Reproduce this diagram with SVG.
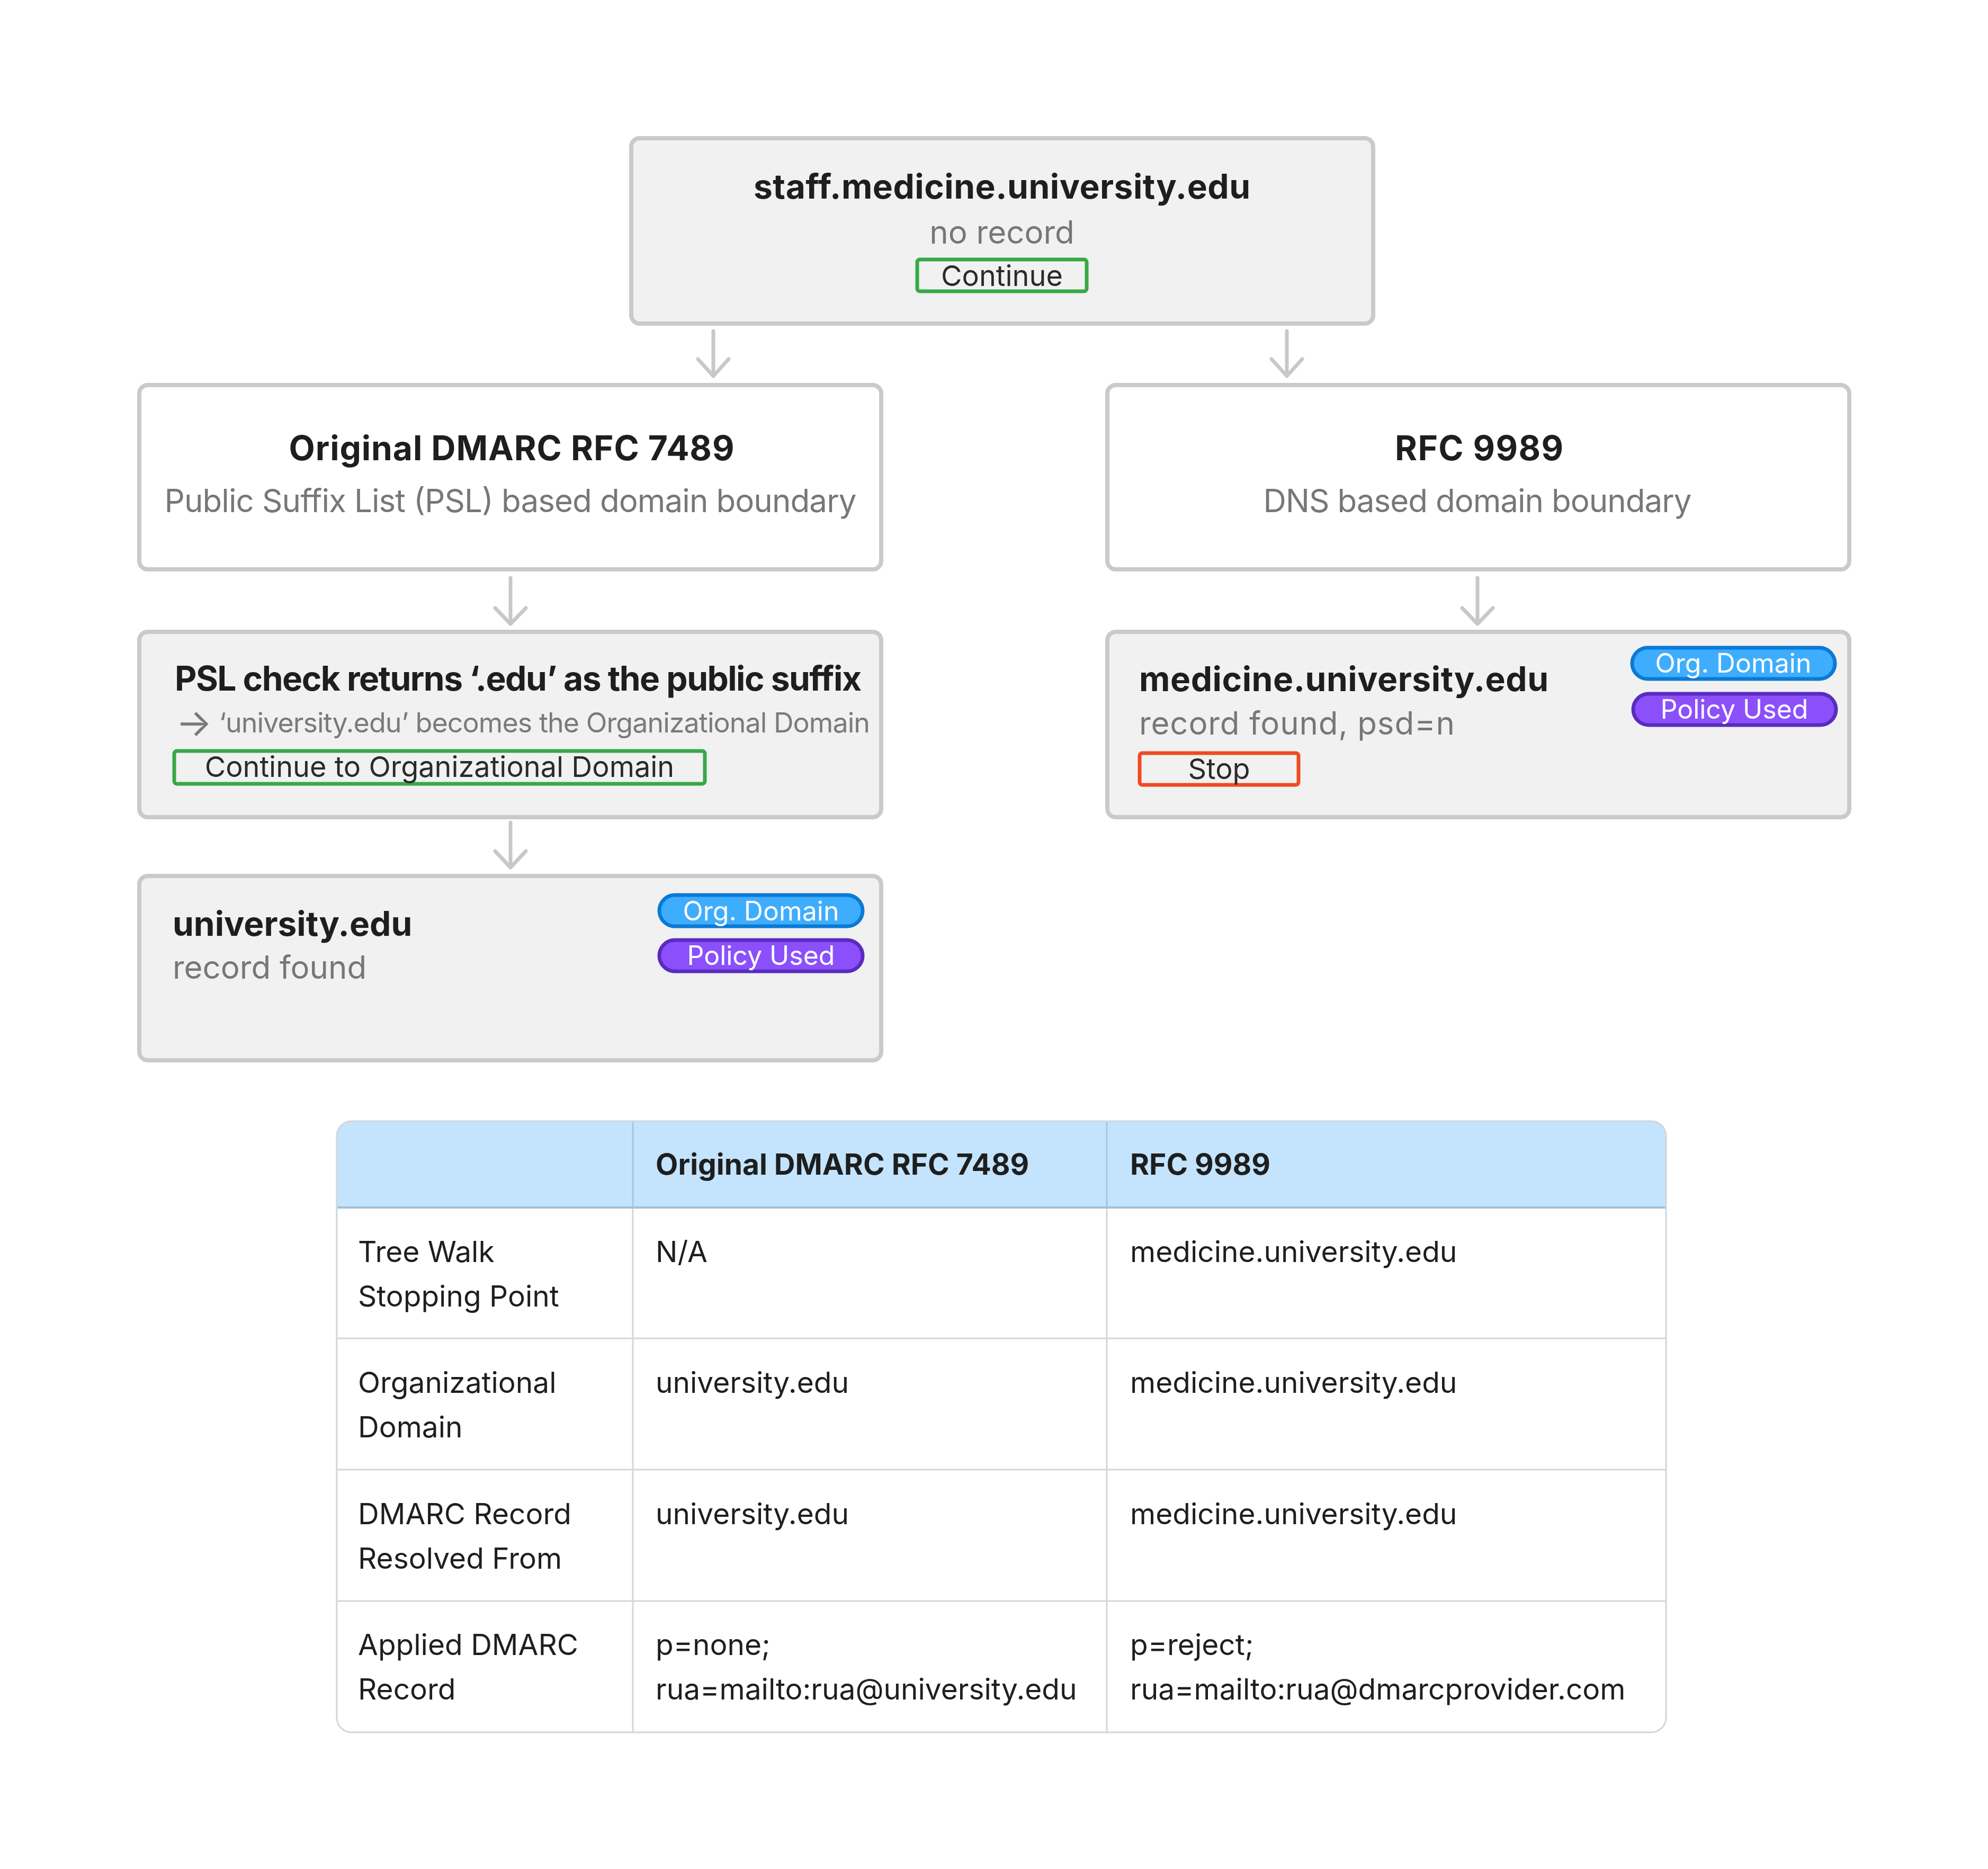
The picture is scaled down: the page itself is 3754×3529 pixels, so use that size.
<svg xmlns="http://www.w3.org/2000/svg" width="3754" height="3529" viewBox="0 0 3754 3529">
<style>
.box{stroke:#cacaca;stroke-width:8}
.g{fill:#f1f1f1}
.w{fill:#ffffff}
.t{font-family:Inter,"Liberation Sans",sans-serif;font-weight:700;font-size:64px;fill:#1e1e1e}
.s{font-family:Inter,"Liberation Sans",sans-serif;font-weight:400;font-size:60px;fill:#777777}
.s2{font-family:Inter,"Liberation Sans",sans-serif;font-weight:400;font-size:52px;fill:#7a7a7a}
.b{font-family:Inter,"Liberation Sans",sans-serif;font-weight:400;font-size:54px;fill:#2a2a2a}
.p{font-family:Inter,"Liberation Sans",sans-serif;font-weight:400;font-size:50px;fill:#ffffff}
.green{fill:none;stroke:#38a847;stroke-width:7}
.red{fill:none;stroke:#f04a23;stroke-width:7}
.blue{fill:#3fadfd;stroke:#0a7ad6;stroke-width:7}
.purple{fill:#8b50fb;stroke:#5a2bbf;stroke-width:7}
.arr{fill:none;stroke:#c8c8c8;stroke-width:7;stroke-linecap:round;stroke-linejoin:round}
.th{font-family:Inter,"Liberation Sans",sans-serif;font-weight:700;font-size:55px;fill:#1e1e1e}
.td{font-family:Inter,"Liberation Sans",sans-serif;font-weight:400;font-size:55px;fill:#1e1e1e}
.grid{stroke:#d6d6d6;stroke-width:3;fill:none}
.hgrid{stroke:#a8c6de;stroke-width:3;fill:none}
</style>
<rect width="3754" height="3529" fill="#ffffff"/>

<g id="connectors">
<path class="arr" d="M1347,625 V710 M1318,678 L1347,710 L1376,678"/>
<path class="arr" d="M2430,625 V710 M2401,678 L2430,710 L2459,678"/>
<path class="arr" d="M964,1091 V1178 M935,1148 L964,1178 L993,1148"/>
<path class="arr" d="M2790,1091 V1178 M2761,1148 L2790,1178 L2819,1148"/>
<path class="arr" d="M964,1553 V1638 M935,1607 L964,1638 L993,1607"/>
</g>

<g id="node-start">
<rect class="box g" x="1192" y="261" width="1401" height="350" rx="16"/>
<text class="t" x="1892" y="375" text-anchor="middle" textLength="938" lengthAdjust="spacing">staff.medicine.university.edu</text>
<text class="s" x="1892" y="460" text-anchor="middle">no record</text>
<rect class="green" x="1732" y="490" width="320" height="60" rx="5"/>
<text class="b" x="1892" y="540" text-anchor="middle">Continue</text>
</g>

<g id="node-rfc7489">
<rect class="box w" x="263" y="727" width="1401" height="348" rx="16"/>
<text class="t" x="966" y="869" text-anchor="middle" textLength="841" lengthAdjust="spacing">Original DMARC RFC 7489</text>
<text class="s" x="964" y="967" text-anchor="middle" textLength="1307" lengthAdjust="spacing">Public Suffix List (PSL) based domain boundary</text>
</g>

<g id="node-rfc9989">
<rect class="box w" x="2091" y="727" width="1401" height="348" rx="16"/>
<text class="t" x="2793" y="869" text-anchor="middle" textLength="318" lengthAdjust="spacing">RFC 9989</text>
<text class="s" x="2790" y="967" text-anchor="middle" textLength="809" lengthAdjust="spacing">DNS based domain boundary</text>
</g>

<g id="node-psl">
<rect class="box g" x="263" y="1193" width="1401" height="350" rx="16"/>
<text class="t" x="330" y="1304" textLength="1297" lengthAdjust="spacing">PSL check returns ‘.edu’ as the public suffix</text>
<text class="s2" x="332" y="1383" textLength="1311" lengthAdjust="spacing"><tspan font-size="72" dy="7">→</tspan><tspan dy="-7"> ‘university.edu’ becomes the Organizational Domain</tspan></text>
<rect class="green" x="329" y="1418" width="1002" height="62" rx="5"/>
<text class="b" x="830" y="1467" text-anchor="middle">Continue to Organizational Domain</text>
</g>

<g id="node-medicine">
<rect class="box g" x="2091" y="1193" width="1401" height="350" rx="16"/>
<text class="t" x="2151" y="1305" textLength="773" lengthAdjust="spacing">medicine.university.edu</text>
<text class="s" x="2151" y="1387" textLength="596" lengthAdjust="spacing">record found, psd=n</text>
<rect class="red" x="2152" y="1422" width="300" height="60" rx="5"/>
<text class="b" x="2302" y="1471" text-anchor="middle">Stop</text>
<rect class="blue" x="3082" y="1223" width="383" height="59" rx="29.5"/>
<text class="p" x="3273" y="1270" text-anchor="middle">Org. Domain</text>
<rect class="purple" x="3084" y="1310" width="383" height="59" rx="29.5"/>
<text class="p" x="3275" y="1357" text-anchor="middle">Policy Used</text>
</g>

<g id="node-university">
<rect class="box g" x="263" y="1654" width="1401" height="348" rx="16"/>
<text class="t" x="326" y="1767">university.edu</text>
<text class="s" x="326" y="1848">record found</text>
<rect class="blue" x="1245" y="1690" width="384" height="59" rx="29.5"/>
<text class="p" x="1437" y="1738" text-anchor="middle">Org. Domain</text>
<rect class="purple" x="1245" y="1775" width="384" height="59" rx="29.5"/>
<text class="p" x="1437" y="1822" text-anchor="middle">Policy Used</text>
</g>

<g id="comparison-table">
<rect x="636" y="2117" width="2510" height="1154" rx="28" fill="#ffffff"/>
<path d="M636,2280 V2145 Q636,2117 664,2117 H3118 Q3146,2117 3146,2145 V2280 Z" fill="#c3e4fc"/>
<line class="hgrid" x1="1195" y1="2117" x2="1195" y2="2280"/>
<line class="hgrid" x1="2090" y1="2117" x2="2090" y2="2280"/>
<line class="grid" x1="1195" y1="2280" x2="1195" y2="3271"/>
<line class="grid" x1="2090" y1="2280" x2="2090" y2="3271"/>
<line class="grid" x1="636" y1="2527" x2="3146" y2="2527"/>
<line class="grid" x1="636" y1="2775" x2="3146" y2="2775"/>
<line class="grid" x1="636" y1="3023" x2="3146" y2="3023"/>
<line x1="636" y1="2280" x2="3146" y2="2280" stroke="#9fbfda" stroke-width="4"/>
<rect x="636" y="2117" width="2510" height="1154" rx="28" fill="none" stroke="#cfd6dc" stroke-width="3"/>
<text class="th" x="1238" y="2218">Original DMARC RFC 7489</text>
<text class="th" x="2134" y="2218">RFC 9989</text>
<text class="td" x="676" y="2383">Tree Walk</text>
<text class="td" x="676" y="2467">Stopping Point</text>
<text class="td" x="1238" y="2383">N/A</text>
<text class="td" x="2134" y="2383">medicine.university.edu</text>
<text class="td" x="676" y="2630">Organizational</text>
<text class="td" x="676" y="2714">Domain</text>
<text class="td" x="1238" y="2630">university.edu</text>
<text class="td" x="2134" y="2630">medicine.university.edu</text>
<text class="td" x="676" y="2878">DMARC Record</text>
<text class="td" x="676" y="2962">Resolved From</text>
<text class="td" x="1238" y="2878">university.edu</text>
<text class="td" x="2134" y="2878">medicine.university.edu</text>
<text class="td" x="676" y="3125">Applied DMARC</text>
<text class="td" x="676" y="3209">Record</text>
<text class="td" x="1238" y="3125">p=none;</text>
<text class="td" x="1238" y="3209">rua=mailto:rua@university.edu</text>
<text class="td" x="2134" y="3125">p=reject;</text>
<text class="td" x="2134" y="3209">rua=mailto:rua@dmarcprovider.com</text>
</g>
</svg>
